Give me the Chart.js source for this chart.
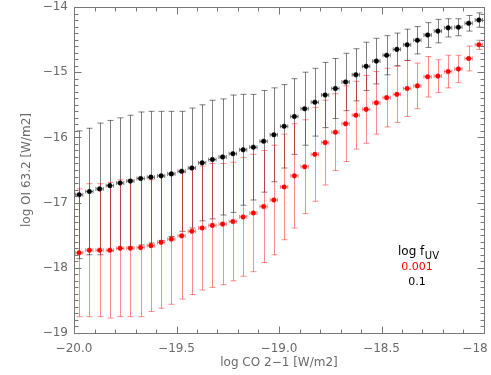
<!DOCTYPE html>
<html>
<head>
<meta charset="utf-8">
<script src="https://cdn.jsdelivr.net/npm/chart.js@4/dist/chart.umd.min.js"></script>
<style>
  html, body { margin: 0; padding: 0; background: #fff; }
  #wrap { width: 491px; height: 375px; }
</style>
</head>
<body>
<div id="wrap"><canvas id="c" width="491" height="375"></canvas></div>
<script>
// ---- data ----
const xCenters = [-19.975,-19.925,-19.875,-19.825,-19.775,-19.725,-19.675,-19.625,-19.575,-19.525,
                  -19.475,-19.425,-19.375,-19.325,-19.275,-19.225,-19.175,-19.125,-19.075,-19.025,
                  -18.975,-18.925,-18.875,-18.825,-18.775,-18.725,-18.675,-18.625,-18.575,-18.525,
                  -18.475,-18.425,-18.375,-18.325,-18.275,-18.225,-18.175,-18.125,-18.075,-18.025];

// log fUV = 0.1 (black)
const oiFuv01 = [-16.88,-16.83,-16.79,-16.74,-16.70,-16.67,-16.63,-16.61,-16.59,-16.56,
                 -16.52,-16.47,-16.39,-16.34,-16.30,-16.25,-16.19,-16.15,-16.06,-15.96,
                 -15.83,-15.68,-15.56,-15.46,-15.35,-15.25,-15.15,-15.04,-14.91,-14.83,
                 -14.74,-14.65,-14.58,-14.51,-14.43,-14.37,-14.32,-14.31,-14.25,-14.20];
const errFuv01 = [0.98,0.97,1.01,1.00,1.00,1.01,1.02,1.01,0.99,0.96,
                  0.92,0.92,0.89,0.91,0.89,0.90,0.85,0.81,0.78,0.72,
                  0.64,0.58,0.56,0.52,0.50,0.46,0.44,0.40,0.37,0.35,
                  0.30,0.25,0.24,0.21,0.19,0.18,0.14,0.13,0.12,0.11];

// log fUV = 0.001 (red)
const oiFuv0001 = [-17.77,-17.73,-17.73,-17.73,-17.70,-17.70,-17.69,-17.66,-17.61,-17.56,
                   -17.51,-17.44,-17.39,-17.35,-17.33,-17.29,-17.22,-17.16,-17.06,-16.96,
                   -16.76,-16.59,-16.45,-16.26,-16.08,-15.92,-15.79,-15.66,-15.57,-15.47,
                   -15.39,-15.34,-15.25,-15.21,-15.07,-15.06,-14.99,-14.95,-14.79,-14.58];
const errFuv0001 = [0.98,1.02,1.02,1.04,1.05,1.05,1.06,1.01,1.01,1.00,
                    0.97,0.97,0.95,0.95,0.93,0.91,0.91,0.90,0.86,0.84,
                    0.81,0.80,0.72,0.72,0.65,0.59,0.58,0.52,0.52,0.48,
                    0.45,0.43,0.43,0.35,0.31,0.25,0.25,0.21,0.19,0.07];

const xHalfBin = 0.018;

const xTickValues = [-20, -19.5, -19, -18.5, -18];
const xTickLabels = ['\u221220.0', '\u221219.5', '\u221219.0', '\u221218.5', '\u221218\u2003\u2002'];
const yTickValues = [-19, -18, -17, -16, -15, -14];
const yTickLabels = ['\u221219', '\u221218', '\u221217', '\u221216', '\u221215', '\u221214'];

const legendTitle = 'log f';
const legendSub = 'UV';
const legendItems = ['0.001', '0.1'];

const FONT = "'DejaVu Sans', sans-serif";
const GREY = '#6a6a6a';

// ---- plugins ----
const errorBars = {
  id: 'errorBars',
  beforeDatasetsDraw(chart) {
    const { ctx, scales: { x, y } } = chart;
    ctx.save();
    const draw = (vals, errs, color) => {
      ctx.strokeStyle = color;
      ctx.lineWidth = 1;
      ctx.beginPath();
      for (let i = 0; i < vals.length; i++) {
        const px = Math.round(x.getPixelForValue(xCenters[i])) + 0.5;
        const hi = y.getPixelForValue(vals[i] + errs[i]);
        const lo = y.getPixelForValue(vals[i] - errs[i]);
        ctx.moveTo(px, hi); ctx.lineTo(px, lo);
        ctx.moveTo(px - 3, hi); ctx.lineTo(px + 3, hi);
        ctx.moveTo(px - 3, lo); ctx.lineTo(px + 3, lo);
        const py = y.getPixelForValue(vals[i]);
        const xl = x.getPixelForValue(xCenters[i] - xHalfBin);
        const xr = x.getPixelForValue(xCenters[i] + xHalfBin);
        ctx.moveTo(xl, py); ctx.lineTo(xr, py);
        ctx.moveTo(xl, py - 2); ctx.lineTo(xl, py + 2);
        ctx.moveTo(xr, py - 2); ctx.lineTo(xr, py + 2);
      }
      ctx.stroke();
    };
    draw(oiFuv01, errFuv01, 'rgba(0,0,0,0.5)');
    draw(oiFuv0001, errFuv0001, 'rgba(255,0,0,0.45)');
    ctx.restore();
  }
};

const frame = {
  id: 'frame',
  afterDraw(chart) {
    const { ctx, chartArea: a, scales: { x, y } } = chart;
    ctx.save();
    ctx.strokeStyle = '#777';
    ctx.lineWidth = 1;
    ctx.beginPath();
    const L = Math.round(a.left) + 0.5, R = Math.round(a.right) + 0.5;
    const T = Math.round(a.top) + 0.5, B = Math.round(a.bottom) + 0.5;
    ctx.rect(L, T, R - L, B - T);
    // x ticks (bottom and top, inward)
    for (let k = 0; k <= Math.round((x.max - x.min) * 10); k++) {
      const v = x.min + k / 10;
      const major = k % 5 === 0;
      const len = major ? 7 : 4;
      const px = Math.round(x.getPixelForValue(v)) + 0.5;
      ctx.moveTo(px, B); ctx.lineTo(px, B - len);
      ctx.moveTo(px, T); ctx.lineTo(px, T + len);
    }
    // y ticks (left and right, inward)
    for (let k = 0; k <= Math.round((y.max - y.min) * 10); k++) {
      const v = y.min + k / 10;
      const major = k % 10 === 0;
      const len = major ? 7 : 4;
      const py = Math.round(y.getPixelForValue(v)) + 0.5;
      ctx.moveTo(L, py); ctx.lineTo(L + len, py);
      ctx.moveTo(R, py); ctx.lineTo(R - len, py);
    }
    ctx.stroke();

    // legend text
    ctx.textBaseline = 'alphabetic';
    ctx.fillStyle = '#000';
    ctx.font = '12px ' + FONT;
    ctx.textAlign = 'left';
    const lx = 398, ly = 255;
    ctx.fillText(legendTitle, lx, ly);
    const w = ctx.measureText(legendTitle).width;
    ctx.font = '10px ' + FONT;
    ctx.fillText(legendSub, lx + w + 0.5, ly + 3.5);
    ctx.font = '11px ' + FONT;
    ctx.textAlign = 'center';
    ctx.fillStyle = '#ff0000';
    ctx.fillText(legendItems[0], 417, 270);
    ctx.fillStyle = '#000';
    ctx.fillText(legendItems[1], 417, 284.5);
    ctx.restore();
  }
};

// ---- chart ----
new Chart(document.getElementById('c'), {
  type: 'scatter',
  data: {
    datasets: [
      {
        label: '0.1',
        data: xCenters.map((xv, i) => ({ x: xv, y: oiFuv01[i] })),
        backgroundColor: '#000',
        borderColor: '#000',
        pointRadius: 2.3,
        pointBorderWidth: 0.5,
        showLine: false
      },
      {
        label: '0.001',
        data: xCenters.map((xv, i) => ({ x: xv, y: oiFuv0001[i] })),
        backgroundColor: '#ff0000',
        borderColor: '#ff0000',
        pointRadius: 2.3,
        pointBorderWidth: 0.5,
        showLine: false
      }
    ]
  },
  options: {
    responsive: false,
    animation: false,
    devicePixelRatio: 1,
    layout: { padding: { top: 7, right: 7, left: 0, bottom: 0 } },
    plugins: { legend: { display: false }, tooltip: { enabled: false } },
    scales: {
      x: {
        type: 'linear',
        min: -20, max: -18,
        grid: { display: false, drawTicks: false },
        border: { display: false },
        ticks: {
          stepSize: 0.5,
          padding: 9,
          color: GREY,
          font: { family: FONT, size: 12 },
          maxRotation: 0,
          autoSkip: false,
          callback: (v) => { const i = xTickValues.findIndex(t => Math.abs(t - v) < 1e-6); return i >= 0 ? xTickLabels[i] : ''; }
        },
        title: { display: true, text: 'log CO 2\u22121 [W/m2]', color: GREY, font: { family: FONT, size: 12 }, padding: { top: 0, bottom: 5 } },
        afterFit: (s) => { s.height = 42; s.paddingLeft = 0; s.paddingRight = 0; }
      },
      y: {
        type: 'linear',
        min: -19, max: -14,
        grid: { display: false, drawTicks: false },
        border: { display: false },
        ticks: {
          stepSize: 1,
          padding: 6,
          color: GREY,
          font: { family: FONT, size: 12 },
          callback: (v) => { const i = yTickValues.findIndex(t => Math.abs(t - v) < 1e-6); return i >= 0 ? yTickLabels[i] : ''; }
        },
        title: { display: true, text: 'log OI 63.2 [W/m2]', color: GREY, font: { family: FONT, size: 12 }, padding: { top: 20, bottom: 0 } },
        afterFit: (s) => { s.width = 74; s.paddingTop = 0; s.paddingBottom = 0; }
      }
    }
  },
  plugins: [errorBars, frame]
});
</script>
</body>
</html>
